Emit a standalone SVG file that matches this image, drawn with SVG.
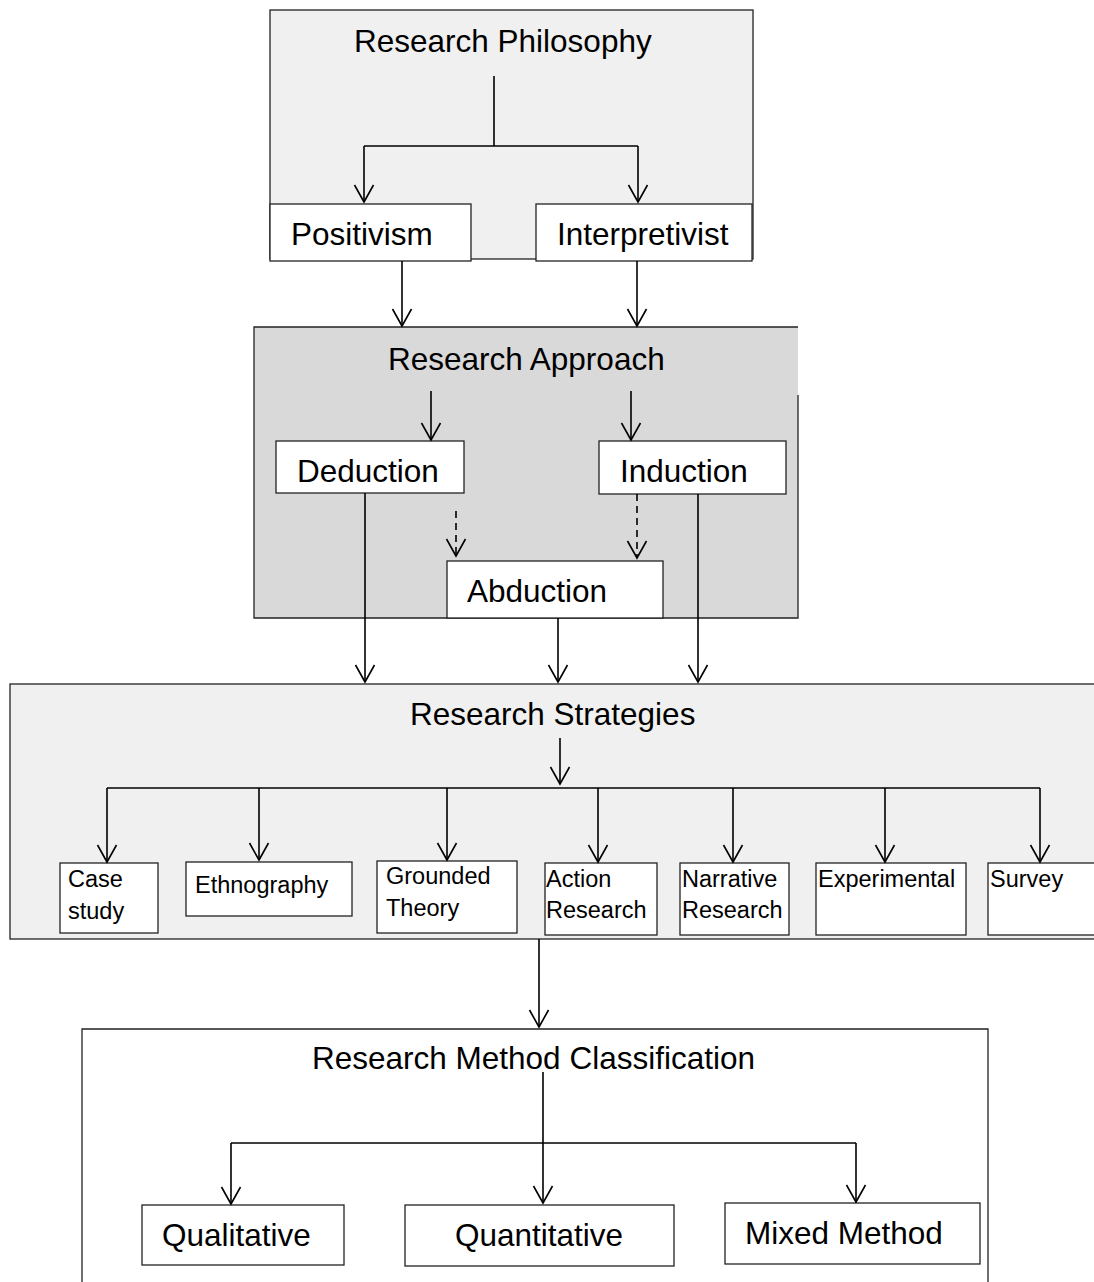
<svg xmlns="http://www.w3.org/2000/svg" width="1094" height="1282" viewBox="0 0 1094 1282">
<defs>
<style>
.t{font-family:"Liberation Sans",Arial,sans-serif;font-size:31.5px;fill:#000}
.s{font-family:"Liberation Sans",Arial,sans-serif;font-size:23.5px;fill:#000}
.box{fill:#fff;stroke:#222;stroke-width:1.3}
.c{fill:none;stroke:#000;stroke-width:1.6}
.d{fill:none;stroke:#000;stroke-width:1.6;stroke-dasharray:7,5}
.edge{fill:none;stroke:#222;stroke-width:1.3}
</style>
<marker id="a" viewBox="-18 -11 20 22" markerWidth="20" markerHeight="22" refX="0" refY="0" orient="auto" markerUnits="userSpaceOnUse">
<path d="M-17,-9.5 L0,0 L-17,9.5" fill="none" stroke="#000" stroke-width="1.6"/>
</marker>
</defs>
<rect width="1094" height="1282" fill="#fff"/>

<g id="philosophy">
<rect x="270" y="10" width="483" height="249" fill="#f0f0f0" stroke="#222" stroke-width="1.3"/>
<text class="t" x="354" y="52">Research Philosophy</text>
</g>
<g id="positivism">
<rect class="box" x="270" y="204" width="201" height="57"/>
<text class="t" x="291" y="245">Positivism</text>
</g>
<g id="interpretivist">
<rect class="box" x="536" y="204" width="216" height="57"/>
<text class="t" x="557" y="245">Interpretivist</text>
</g>

<g id="approach">
<rect x="254" y="327" width="544" height="291" fill="#d9d9d9"/>
<path class="edge" d="M798,395 L798,618 L254,618 L254,327 L798,327"/>
<text class="t" x="388" y="370">Research Approach</text>
</g>
<g id="deduction">
<rect class="box" x="276" y="441" width="188" height="52"/>
<text class="t" x="297" y="482">Deduction</text>
</g>
<g id="induction">
<rect class="box" x="599" y="441" width="187" height="53"/>
<text class="t" x="620" y="482">Induction</text>
</g>
<g id="abduction">
<rect class="box" x="447" y="561" width="216" height="57"/>
<text class="t" x="467" y="602">Abduction</text>
</g>

<g id="strategies">
<rect x="10" y="684" width="1090" height="255" fill="#f0f0f0" stroke="#222" stroke-width="1.3"/>
<text class="t" x="410" y="725">Research Strategies</text>
</g>
<g id="casestudy">
<rect class="box" x="60" y="863" width="98" height="70"/>
<text class="s" x="68" y="887">Case</text>
<text class="s" x="68" y="919">study</text>
</g>
<g id="ethnography">
<rect class="box" x="186" y="862" width="166" height="54"/>
<text class="s" x="195" y="893">Ethnography</text>
</g>
<g id="grounded">
<rect class="box" x="377" y="861" width="140" height="72"/>
<text class="s" x="386" y="884">Grounded</text>
<text class="s" x="386" y="916">Theory</text>
</g>
<g id="action">
<rect class="box" x="545" y="863" width="112" height="72"/>
<text class="s" x="546" y="887">Action</text>
<text class="s" x="546" y="918">Research</text>
</g>
<g id="narrative">
<rect class="box" x="680" y="863" width="109" height="72"/>
<text class="s" x="682" y="887">Narrative</text>
<text class="s" x="682" y="918">Research</text>
</g>
<g id="experimental">
<rect class="box" x="816" y="863" width="150" height="72"/>
<text class="s" x="818" y="887">Experimental</text>
</g>
<g id="survey">
<rect class="box" x="988" y="863" width="120" height="72"/>
<text class="s" x="990" y="887">Survey</text>
</g>

<g id="method">
<path d="M82,1282 L82,1029 L988,1029 L988,1282" fill="#fff" stroke="#222" stroke-width="1.3"/>
<text class="t" x="312" y="1069">Research Method Classification</text>
</g>
<g id="qualitative">
<rect class="box" x="142" y="1205" width="202" height="60"/>
<text class="t" x="162" y="1246">Qualitative</text>
</g>
<g id="quantitative">
<rect class="box" x="405" y="1205" width="269" height="61"/>
<text class="t" x="455" y="1246">Quantitative</text>
</g>
<g id="mixed">
<rect class="box" x="725" y="1203" width="255" height="61"/>
<text class="t" x="745" y="1244">Mixed Method</text>
</g>

<g id="connectors">
<path class="c" d="M494,76 L494,146"/>
<path class="c" d="M364,146 L638,146"/>
<path class="c" d="M364,146 L364,202" marker-end="url(#a)"/>
<path class="c" d="M638,146 L638,202" marker-end="url(#a)"/>
<path class="c" d="M402,261 L402,326" marker-end="url(#a)"/>
<path class="c" d="M637,261 L637,326" marker-end="url(#a)"/>
<path class="c" d="M431,391 L431,440" marker-end="url(#a)"/>
<path class="c" d="M631,391 L631,440" marker-end="url(#a)"/>
<path class="d" d="M456,511 L456,556" marker-end="url(#a)"/>
<path class="d" d="M637,494 L637,558" marker-end="url(#a)"/>
<path class="c" d="M365,493 L365,682" marker-end="url(#a)"/>
<path class="c" d="M558,618 L558,682" marker-end="url(#a)"/>
<path class="c" d="M698,494 L698,682" marker-end="url(#a)"/>
<path class="c" d="M560,738 L560,784" marker-end="url(#a)"/>
<path class="c" d="M107,788 L1040,788"/>
<path class="c" d="M107,788 L107,862" marker-end="url(#a)"/>
<path class="c" d="M259,788 L259,860" marker-end="url(#a)"/>
<path class="c" d="M447,788 L447,860" marker-end="url(#a)"/>
<path class="c" d="M598,788 L598,862" marker-end="url(#a)"/>
<path class="c" d="M733,788 L733,862" marker-end="url(#a)"/>
<path class="c" d="M885,788 L885,862" marker-end="url(#a)"/>
<path class="c" d="M1040,788 L1040,862" marker-end="url(#a)"/>
<path class="c" d="M539,939 L539,1027" stroke-width="2.2" marker-end="url(#a)"/>
<path class="c" d="M543,1072 L543,1203" marker-end="url(#a)"/>
<path class="c" d="M231,1143 L856,1143"/>
<path class="c" d="M231,1143 L231,1204" marker-end="url(#a)"/>
<path class="c" d="M856,1143 L856,1202" marker-end="url(#a)"/>
</g>
</svg>
